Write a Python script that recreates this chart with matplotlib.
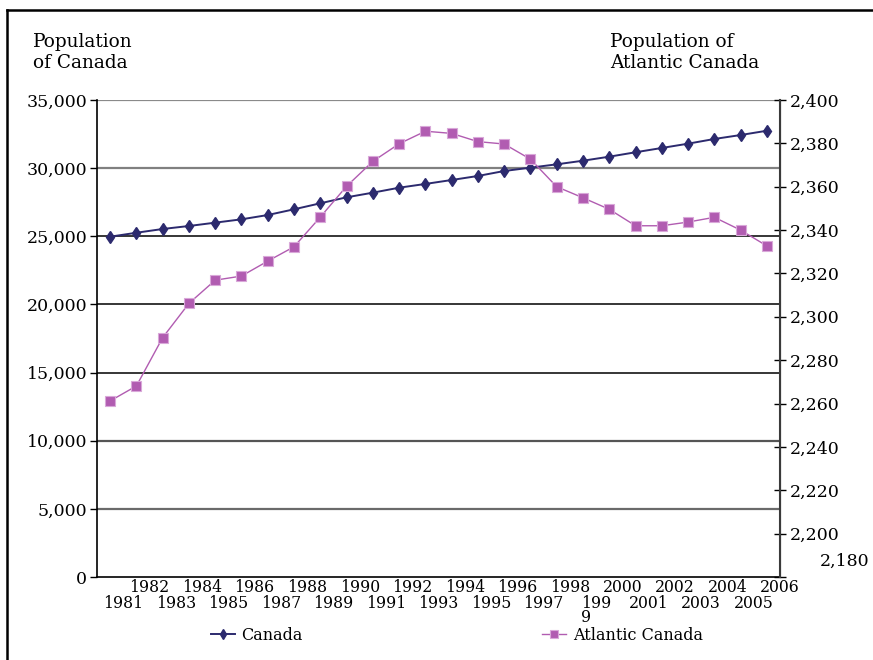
import numpy as np
import matplotlib.pyplot as plt
from matplotlib.lines import Line2D
from matplotlib.ticker import FuncFormatter

plt.rcParams['font.family'] = ['DejaVu Serif']

# population in thousands, 1981-2006
years = list(range(1981, 2007))
canada = [24970, 25260, 25535, 25755, 26000, 26245, 26560, 26980, 27420, 27860,
          28200, 28565, 28840, 29130, 29425, 29790, 30035, 30280, 30545, 30840,
          31165, 31480, 31795, 32140, 32430, 32745]
atlantic = [2261.2, 2268.1, 2290.4, 2306.2, 2316.9, 2318.8, 2325.7, 2332.3, 2346.0, 2360.2,
            2371.7, 2379.8, 2385.6, 2384.6, 2380.8, 2379.7, 2372.7, 2360.0, 2354.9, 2349.6,
            2342.0, 2342.0, 2343.7, 2345.9, 2340.0, 2332.7]
year_labels = [str(y) for y in years]
year_labels[years.index(1999)] = '199\n9'

left_ticks = list(range(0, 35001, 5000))
right_ticks = list(range(2180, 2401, 20))
grid_colors = ['black', '#6a6a6a', '#555555', 'black', 'black', 'black', '#808080', '#8a8a8a']

W, H = 873, 660
fig = plt.figure(figsize=(W / 100, H / 100), dpi=100)
ax = fig.add_axes([97 / W, 83 / H, 683 / W, 477 / H])
ax2 = ax.twinx()

x = np.arange(len(years))

# horizontal rules behind the series
for v, c in zip(left_ticks[1:], grid_colors[1:]):
    ax.axhline(v, color=c, lw=1.6 if c != 'black' else 1.1, zorder=1)

ln1, = ax.plot(x, canada, color='#2c2a6e', lw=1.4, marker='d', ms=6,
               mec='#2c2a6e', zorder=3, label='Canada')
ln2, = ax2.plot(x, atlantic, color='#b15cb1', lw=1.0, marker='s', ms=7,
                mfc='#b15cb1', mec='#d9a8d9', mew=0.8, zorder=3, label='Atlantic Canada')

ax.set_xlim(-0.5, len(years) - 0.5)
ax.set_ylim(0, 35000)
ax2.set_ylim(2180, 2400)

ax.set_yticks(left_ticks)
ax.yaxis.set_major_formatter(FuncFormatter(lambda v, p: f'{int(v):,}'))
ax.tick_params(axis='y', direction='out', length=5, width=1, labelsize=12.5, pad=2, colors='black')

ax2.set_yticks(right_ticks)
ax2.yaxis.set_major_formatter(FuncFormatter(lambda v, p: '' if v == 2180 else f'{int(v):,}'))
ax2.tick_params(axis='y', direction='inout', length=8, width=1, labelsize=12.5, pad=3, colors='black')
ax2.annotate('2,180', xy=(1, 2180), xycoords=ax2.get_yaxis_transform(),
             xytext=(40, 16), textcoords='offset pixels', ha='left', va='center', fontsize=12.5)

# year labels sit on the category boundaries, staggered in two rows
ax.set_xticks(x + 0.5, year_labels)
ax.tick_params(axis='x', which='major', length=0, labelsize=11.3)
for i, t in enumerate(ax.xaxis.get_major_ticks()):
    t.set_pad(1.5 if i % 2 else 13)
    t.label1.set_multialignment('left')
    t.label1.set_linespacing(0.8)
ax.set_xticks(x[::2] + 0.5, minor=True)
ax.tick_params(axis='x', which='minor', direction='out', length=5, width=1)

for a in (ax, ax2):
    a.spines['top'].set_visible(False)
ax.spines['left'].set_linewidth(1.2)
ax.spines['bottom'].set_linewidth(1.2)
ax2.spines['right'].set_color('#3a3a3a')
ax2.spines['right'].set_linewidth(1.5)
ax2.spines['left'].set_visible(False)
ax2.spines['bottom'].set_visible(False)

fig.text(33 / W, 1 - 33 / H, 'Population\nof Canada', ha='left', va='top', fontsize=13.3, linespacing=1.22)
fig.text(610 / W, 1 - 33 / H, 'Population of\nAtlantic Canada', ha='left', va='top', fontsize=13.3, linespacing=1.22)

fig.legend([ln1, ln2], ['Canada', 'Atlantic Canada'], loc='center left',
           bbox_to_anchor=(203 / W, 1 - 635 / H), ncol=2, frameon=False, fontsize=11.5,
           handlelength=1.5, handletextpad=0.4, columnspacing=15.0, borderpad=0,
           markerscale=0.85)

# outer frame
fig.add_artist(Line2D([7 / W, 1], [1 - 10 / H, 1 - 10 / H], transform=fig.transFigure, color='black', lw=1.8))
fig.add_artist(Line2D([7 / W, 7 / W], [0, 1 - 10 / H], transform=fig.transFigure, color='black', lw=1.8))

fig.savefig('out.png', dpi=100)
